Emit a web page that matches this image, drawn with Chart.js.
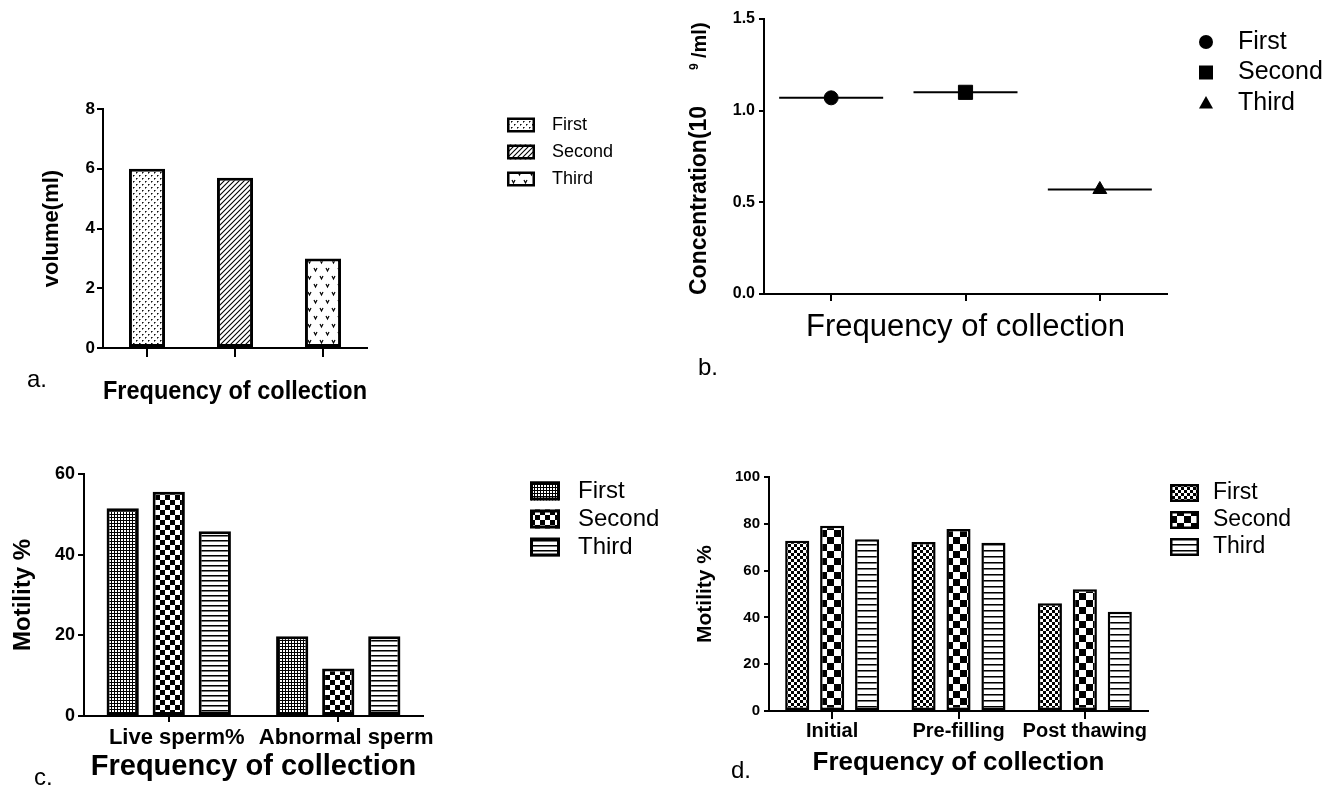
<!DOCTYPE html>
<html>
<head>
<meta charset="utf-8">
<script src="https://cdn.jsdelivr.net/npm/chart.js@4.4.1/dist/chart.umd.min.js"></script>
<style>
  html, body { margin: 0; padding: 0; background: #fff; }
  body { width: 1341px; height: 786px; position: relative; overflow: hidden; font-family: 'Liberation Sans', Arial, sans-serif; }
  canvas { position: absolute; }
  .tag { position: absolute; font-size: 24px; line-height: 1; color: #000; }
</style>
</head>
<body>
<canvas id="volumeChart" width="640" height="320" style="left:0;top:90px"></canvas>
<canvas id="concChart" width="701" height="390" style="left:640px;top:0"></canvas>
<canvas id="spermChart" width="680" height="326" style="left:0;top:460px"></canvas>
<canvas id="motilityChart" width="661" height="326" style="left:680px;top:460px"></canvas>
<div class="tag" style="left:27px;top:367px">a.</div>
<div class="tag" style="left:698px;top:355px">b.</div>
<div class="tag" style="left:34px;top:765px">c.</div>
<div class="tag" style="left:731px;top:758px">d.</div>
<script>
// values
const collections = ['First', 'Second', 'Third'];
const volumeMl = [6.0, 5.7, 3.0];
const concentration = [1.07, 1.10, 0.57];

const spermCategories = ['Live sperm%', 'Abnormal sperm'];
const spermFirst = [51.5, 19.8];
const spermSecond = [55.6, 11.8];
const spermThird = [45.8, 19.8];

const stageCategories = ['Initial', 'Pre-filling', 'Post thawing'];
const motilityFirst = [72.8, 72.2, 46.0];
const motilitySecond = [79.2, 77.8, 52.0];
const motilityThird = [73.4, 71.9, 42.4];

const FONT = "'Liberation Sans', Arial, sans-serif";
Chart.defaults.font.family = FONT;
Chart.defaults.color = '#000';

// little fill patterns like the graphpad ones
function pattern(w, h, paint) {
  const c = document.createElement('canvas');
  c.width = w; c.height = h;
  const g = c.getContext('2d');
  g.fillStyle = '#fff';
  g.fillRect(0, 0, w, h);
  g.fillStyle = '#000';
  g.strokeStyle = '#000';
  paint(g, w, h);
  return g.createPattern(c, 'repeat');
}
function checker(size) {
  return pattern(size * 2, size * 2, g => {
    g.fillRect(0, 0, size, size);
    g.fillRect(size, size, size, size);
  });
}
function hlines(gap) {
  return pattern(4, gap, g => {
    g.fillRect(0, 0, 4, 1);
    g.fillStyle = '#777';
    g.fillRect(0, 1, 4, 1);
  });
}

const volumePatterns = [
  pattern(6, 6, g => { g.fillStyle = '#111'; g.fillRect(1, 1, 1, 1); g.fillRect(4, 4, 1, 1); g.fillStyle = '#777'; g.fillRect(2, 1, 1, 1); g.fillRect(5, 4, 1, 1); g.fillRect(1, 2, 1, 1); g.fillRect(4, 5, 1, 1); }),
  pattern(5, 5, g => {
    g.lineWidth = 1.1;
    g.beginPath();
    g.moveTo(0, 5); g.lineTo(5, 0);
    g.moveTo(-1, 1); g.lineTo(1, -1);
    g.moveTo(4, 6); g.lineTo(6, 4);
    g.stroke();
  }),
  pattern(12, 16, g => {
    g.lineWidth = 1.2;
    g.beginPath();
    g.moveTo(2, 2); g.lineTo(3.5, 5); g.lineTo(5, 2);
    g.moveTo(8, 10); g.lineTo(9.5, 13); g.lineTo(11, 10);
    g.stroke();
  })
];

const spermPatterns = [
  pattern(3, 3, g => { g.fillRect(0, 0, 3, 3); g.fillStyle = '#fff'; g.fillRect(1, 1, 2, 2); }),
  checker(5),
  hlines(5)
];

const motilityPatterns = [checker(3), checker(7), hlines(6)];

const concMarkers = ['circle', 'rect', 'triangle'];

function drawMarker(ctx, shape, x, y, r) {
  ctx.fillStyle = '#000';
  ctx.beginPath();
  if (shape === 'circle') {
    ctx.arc(x, y, r, 0, Math.PI * 2);
  } else if (shape === 'rect') {
    ctx.rect(x - r, y - r, r * 2, r * 2);
  } else {
    ctx.moveTo(x, y - r);
    ctx.lineTo(x + r, y + r * 0.8);
    ctx.lineTo(x - r, y + r * 0.8);
    ctx.closePath();
  }
  ctx.fill();
}

// legend drawn off to the right of each plot
const swatchLegend = {
  id: 'swatchLegend',
  afterDraw(chart, args, o) {
    if (!o || !o.items) return;
    const ctx = chart.ctx;
    ctx.save();
    o.items.forEach((item, i) => {
      const y = o.y + i * o.gap;
      if (item.shape) {
        drawMarker(ctx, item.shape, o.x, y, o.size);
      } else {
        ctx.fillStyle = item.fill;
        ctx.fillRect(o.x, y - o.h / 2, o.w, o.h);
        ctx.lineWidth = o.border;
        ctx.strokeStyle = '#000';
        ctx.strokeRect(o.x + o.border / 2, y - o.h / 2 + o.border / 2, o.w - o.border, o.h - o.border);
      }
      ctx.fillStyle = '#000';
      ctx.font = o.font;
      ctx.textAlign = 'left';
      ctx.textBaseline = 'middle';
      ctx.fillText(item.label, o.textX, y);
    });
    ctx.restore();
  }
};
Chart.register(swatchLegend);

function axisGrid(len) {
  return { drawOnChartArea: false, offset: false, color: '#000', lineWidth: 2, tickLength: len };
}
const axisBorder = { color: '#000', width: 2 };
const base = { responsive: false, animation: false, devicePixelRatio: 1 };

// a. volume
new Chart(document.getElementById('volumeChart'), {
  type: 'bar',
  data: {
    labels: collections,
    datasets: [{
      label: 'volume',
      data: volumeMl,
      backgroundColor: volumePatterns,
      borderColor: '#000',
      borderWidth: 3,
      borderSkipped: false,
      barPercentage: 0.41,
      categoryPercentage: 1
    }]
  },
  options: {
    ...base,
    layout: { padding: { top: 19, right: 273, bottom: 0, left: 0 } },
    plugins: {
      legend: { display: false },
      tooltip: { enabled: false },
      swatchLegend: {
        items: collections.map((c, i) => ({ label: c, fill: volumePatterns[i] })),
        x: 507, y: 35, gap: 27, w: 28, h: 15, border: 2.5, textX: 552,
        font: '18px ' + FONT
      }
    },
    scales: {
      x: {
        grid: axisGrid(9),
        border: axisBorder,
        ticks: { display: false },
        title: { display: true, text: 'Frequency of collection', font: { size: 26, weight: 'bold' }, padding: { top: 0, bottom: 2.4 } },
        afterFit: s => { s.height = 62; }
      },
      y: {
        min: 0, max: 8,
        ticks: { stepSize: 2, padding: 2, font: { size: 17, weight: 'bold' } },
        grid: axisGrid(6),
        border: axisBorder,
        title: { display: true, text: 'volume(ml)', font: { size: 22, weight: 'bold' }, padding: { top: 38.8, bottom: 0 } },
        afterFit: s => { s.width = 103; }
      }
    }
  }
});

// b. concentration, y title has a superscript so it is drawn by hand
const concTitle = {
  id: 'concTitle',
  afterDraw(chart) {
    const ctx = chart.ctx;
    ctx.save();
    ctx.translate(60, 295);
    ctx.rotate(-Math.PI / 2);
    ctx.fillStyle = '#000';
    ctx.textAlign = 'left';
    ctx.textBaseline = 'middle';
    ctx.font = 'bold 23px ' + FONT;
    ctx.fillText('Concentration(10', 0, 0);
    ctx.font = 'bold 12px ' + FONT;
    ctx.fillText('9', 225, -5);
    ctx.font = 'bold 20px ' + FONT;
    ctx.fillText('/ml)', 237, 0);
    ctx.restore();
  }
};

new Chart(document.getElementById('concChart'), {
  type: 'line',
  data: {
    labels: collections,
    datasets: [
      ...collections.map((name, i) => ({
        label: name,
        data: [{ x: name, y: concentration[i] }],
        showLine: false,
        pointStyle: concMarkers[i],
        pointRadius: [7, 10, 8][i],
        pointBackgroundColor: '#000',
        pointBorderColor: '#000',
        order: 0
      })),
      {
        label: 'mean',
        data: concentration,
        showLine: false,
        pointStyle: 'line',
        pointRadius: 52,
        pointBorderColor: '#000',
        pointBorderWidth: 2,
        order: 1
      }
    ]
  },
  options: {
    ...base,
    layout: { autoPadding: false, padding: { top: 19, right: 174, bottom: 0, left: 0 } },
    plugins: {
      legend: { display: false },
      tooltip: { enabled: false },
      swatchLegend: {
        items: collections.map((c, i) => ({ label: c, shape: concMarkers[i] })),
        x: 566, y: 42, gap: 30.5, size: 7, textX: 598,
        font: '25px ' + FONT
      }
    },
    scales: {
      x: {
        type: 'category',
        offset: true,
        grid: axisGrid(7),
        border: axisBorder,
        ticks: { display: false },
        title: { display: true, text: 'Frequency of collection', font: { size: 31 }, padding: { top: 0, bottom: 44 } },
        afterFit: s => { s.height = 96; }
      },
      y: {
        min: 0, max: 1.5,
        ticks: { stepSize: 0.5, padding: 4, font: { size: 16, weight: 'bold' }, callback: v => v.toFixed(1) },
        grid: axisGrid(5),
        border: axisBorder,
        afterFit: s => { s.width = 124; }
      }
    }
  },
  plugins: [concTitle]
});

// c. live / abnormal sperm
function barSets(series, patterns, width) {
  return series.map((vals, i) => ({
    label: collections[i],
    data: vals,
    backgroundColor: patterns[i],
    borderColor: '#000',
    borderWidth: width,
    borderSkipped: false
  }));
}

new Chart(document.getElementById('spermChart'), {
  type: 'bar',
  data: {
    labels: spermCategories,
    datasets: barSets([spermFirst, spermSecond, spermThird], spermPatterns, 3)
  },
  options: {
    ...base,
    datasets: { bar: { barPercentage: 0.7, categoryPercentage: 0.815 } },
    layout: { padding: { top: 14, right: 257, bottom: 0, left: 0 } },
    plugins: {
      legend: { display: false },
      tooltip: { enabled: false },
      swatchLegend: {
        items: collections.map((c, i) => ({ label: c, fill: spermPatterns[i] })),
        x: 530, y: 31, gap: 28, w: 30, h: 19, border: 3, textX: 578,
        font: '24px ' + FONT
      }
    },
    scales: {
      x: {
        grid: axisGrid(6),
        border: axisBorder,
        ticks: { padding: 2.8, labelOffset: 8, maxRotation: 0, autoSkip: false, font: { size: 22, weight: 'bold' } },
        title: { display: true, text: 'Frequency of collection', font: { size: 29, weight: 'bold' }, padding: { top: 0, bottom: 1.6 } },
        afterFit: s => { s.height = 70; }
      },
      y: {
        min: 0, max: 60,
        ticks: { stepSize: 20, padding: 3, font: { size: 18, weight: 'bold' } },
        grid: axisGrid(6),
        border: axisBorder,
        title: { display: true, text: 'Motility %', font: { size: 24, weight: 'bold' }, padding: { top: 8.6, bottom: 0 } },
        afterFit: s => { s.width = 84; }
      }
    }
  }
});

// d. motility by stage
new Chart(document.getElementById('motilityChart'), {
  type: 'bar',
  data: {
    labels: stageCategories,
    datasets: barSets([motilityFirst, motilitySecond, motilityThird], motilityPatterns, 2.5)
  },
  options: {
    ...base,
    datasets: { bar: { barPercentage: 0.69, categoryPercentage: 0.83 } },
    layout: { padding: { top: 17, right: 193, bottom: 0, left: 0 } },
    plugins: {
      legend: { display: false },
      tooltip: { enabled: false },
      swatchLegend: {
        items: collections.map((c, i) => ({ label: c, fill: motilityPatterns[i] })),
        x: 490, y: 33, gap: 27, w: 29, h: 18, border: 2.5, textX: 533,
        font: '23px ' + FONT
      }
    },
    scales: {
      x: {
        grid: axisGrid(8),
        border: axisBorder,
        ticks: { padding: 0, maxRotation: 0, autoSkip: false, font: { size: 20, weight: 'bold' } },
        title: { display: true, text: 'Frequency of collection', font: { size: 26, weight: 'bold' }, padding: { top: 0, bottom: 7.4 } },
        afterFit: s => { s.height = 75; }
      },
      y: {
        min: 0, max: 100,
        ticks: { stepSize: 20, padding: 4, font: { size: 15, weight: 'bold' } },
        grid: axisGrid(5),
        border: axisBorder,
        title: { display: true, text: 'Motility %', font: { size: 21, weight: 'bold' }, padding: { top: 12.4, bottom: 0 } },
        afterFit: s => { s.width = 89; }
      }
    }
  }
});
</script>
</body>
</html>
